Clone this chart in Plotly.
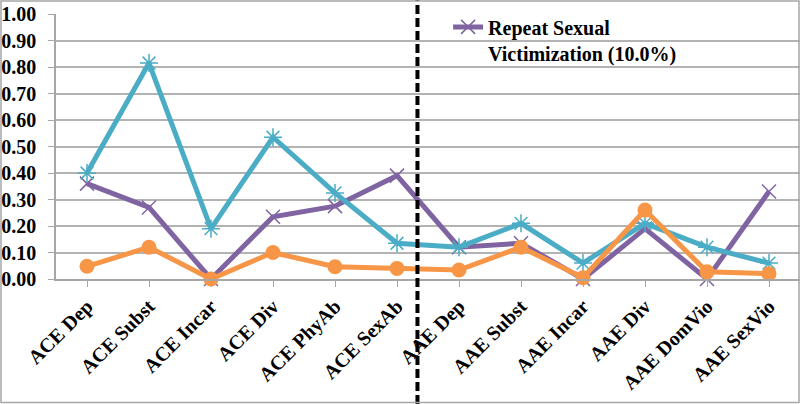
import plotly.graph_objects as go

categories = ["ACE Dep", "ACE Subst", "ACE Incar", "ACE Div", "ACE PhyAb", "ACE SexAb",
              "AAE Dep", "AAE Subst", "AAE Incar", "AAE Div", "AAE DomVio", "AAE SexVio"]
repeat_sv = [0.36, 0.27, 0.00, 0.235, 0.275, 0.39, 0.12, 0.135, 0.00, 0.19, 0.00, 0.33]
teal_series = [0.40, 0.815, 0.19, 0.535, 0.325, 0.135, 0.12, 0.21, 0.06, 0.21, 0.12, 0.06]
orange_series = [0.048, 0.12, 0.00, 0.10, 0.046, 0.04, 0.034, 0.12, 0.005, 0.26, 0.027, 0.02]
y_ticks = [0.0, 0.1, 0.2, 0.3, 0.4, 0.5, 0.6, 0.7, 0.8, 0.9, 1.0]
y_tick_labels = ["0.00", "0.10", "0.20", "0.30", "0.40", "0.50", "0.60", "0.70", "0.80", "0.90", "1.00"]
divider_position = 5.33

PURPLE = "#8064A2"
TEAL = "#4BACC6"
ORANGE = "#F79646"
FONT = "Liberation Serif"
FS = 20

xi = list(range(len(categories)))

fig = go.Figure()
fig.add_trace(go.Scatter(
    x=xi, y=repeat_sv, mode="lines+markers",
    name="<b>Repeat Sexual<br>Victimization (10.0%)</b>",
    line=dict(color=PURPLE, width=5),
    marker=dict(symbol="x-thin-open", size=14, color=PURPLE, line=dict(color=PURPLE, width=1.5)),
    cliponaxis=False, showlegend=True))
fig.add_trace(go.Scatter(
    x=xi, y=teal_series, mode="lines+markers", name="teal",
    line=dict(color=TEAL, width=5),
    marker=dict(symbol="asterisk-open", size=15, color=TEAL, line=dict(color=TEAL, width=1.5)),
    cliponaxis=False, showlegend=False))
fig.add_trace(go.Scatter(
    x=xi, y=orange_series, mode="lines+markers", name="orange",
    line=dict(color=ORANGE, width=5),
    marker=dict(symbol="circle", size=15, color=ORANGE),
    cliponaxis=False, showlegend=False))

L, R, T, B = 56, 0, 14, 125
W, H = 800, 404
pw, ph = W - L - R, H - T - B

# dashed divider across the full height
fig.add_shape(type="line", xref="x", yref="paper", x0=divider_position, x1=divider_position,
              y0=-B / ph, y1=1 + T / ph, line=dict(color="black", width=4, dash="9px,4px"))
# outer border
fig.add_shape(type="rect", xref="paper", yref="paper",
              x0=-(L - 1) / pw, x1=1 - 1 / pw, y0=-(B - 1.5) / ph, y1=1 + (T - 1) / ph,
              line=dict(color="#a6a6a6", width=1.5), fillcolor="rgba(0,0,0,0)")

fig.update_layout(
    width=W, height=H,
    margin=dict(l=L, r=R, t=T, b=B),
    paper_bgcolor="white", plot_bgcolor="white",
    font=dict(family=FONT, size=FS, color="black"),
    legend=dict(x=0.527, y=1.025, xanchor="left", yanchor="top", valign="top",
                bgcolor="rgba(0,0,0,0)", font=dict(family=FONT, size=FS, color="black"),
                itemwidth=30),
    xaxis=dict(
        tickmode="array", tickvals=xi, ticktext=["<b>%s</b>" % c for c in categories],
        range=[-0.5, len(categories) - 0.5], tickangle=-45,
        showgrid=False, showline=True, linecolor="#a6a6a6", linewidth=1.5,
        ticks="outside", ticklen=6, tickcolor="#a6a6a6", tickson="boundaries",
        tickfont=dict(family=FONT, size=FS, color="black"), zeroline=False, automargin=False),
    yaxis=dict(
        tickmode="array", tickvals=y_ticks, ticktext=["<b>%s</b>" % t for t in y_tick_labels],
        range=[0, 1.0], showgrid=True, gridcolor="#b3b3b3", gridwidth=1.5,
        showline=True, linecolor="#a6a6a6", linewidth=1.5,
        ticks="outside", ticklen=6, tickcolor="#a6a6a6", ticklabelstandoff=8,
        tickfont=dict(family=FONT, size=FS, color="black"), zeroline=False, automargin=False),
)

fig.write_html("out.html", config={"displayModeBar": False},
               post_script="document.body.style.margin='0';")
